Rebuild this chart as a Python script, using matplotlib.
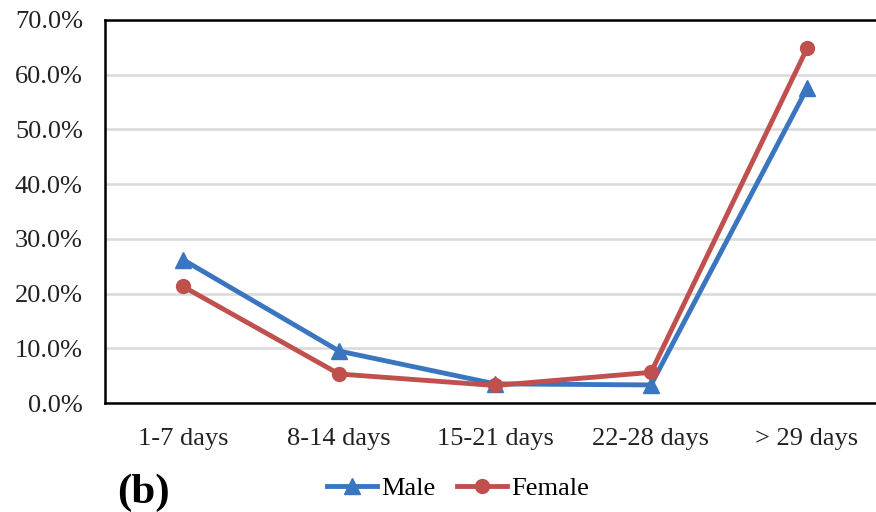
import numpy as np
import matplotlib.pyplot as plt
from matplotlib.ticker import PercentFormatter

categories = ["1-7 days", "8-14 days", "15-21 days", "22-28 days", "> 29 days"]
male = [26.2, 9.5, 3.5, 3.3, 57.5]
female = [21.3, 5.3, 3.2, 5.6, 64.8]
yticks = [0, 10, 20, 30, 40, 50, 60, 70]

plt.rcParams['font.family'] = ['Liberation Serif', 'DejaVu Serif']

fig = plt.figure(figsize=(8.76, 5.12), dpi=100)
ax = fig.add_axes([105/876, 109/512, 780/876, 383/512])

x = np.arange(len(categories))
ax.plot(x, male, color='#3A76BF', lw=3.5, marker='^', ms=11, label='Male', zorder=3)
ax.plot(x, female, color='#C0504D', lw=3.5, marker='o', ms=10, label='Female', zorder=4)

ax.set_xlim(-0.5, 4.5)
ax.set_ylim(0, 70)
ax.set_yticks(yticks)
ax.yaxis.set_major_formatter(PercentFormatter(decimals=1))
ax.set_xticks(x)
ax.set_xticklabels(categories)
ax.tick_params(length=0, labelsize=19, colors='#222222')
ax.tick_params(axis='x', pad=18)
ax.tick_params(axis='y', pad=16)
ax.grid(axis='y', color='#d9d9d9', lw=1.8)
ax.set_axisbelow(True)
for s in ax.spines.values():
    s.set_linewidth(1.8)
    s.set_color('black')

fig.legend(loc='center', bbox_to_anchor=(458/876, 1 - 488/512), ncol=2, frameon=False,
           fontsize=19, handlelength=1.9, columnspacing=0.8, handletextpad=0.15)
fig.text(117/876, 1 - 493/512, '(b)', fontsize=31, fontweight='bold', va='center', ha='left')

fig.savefig('out.png', dpi=100)
